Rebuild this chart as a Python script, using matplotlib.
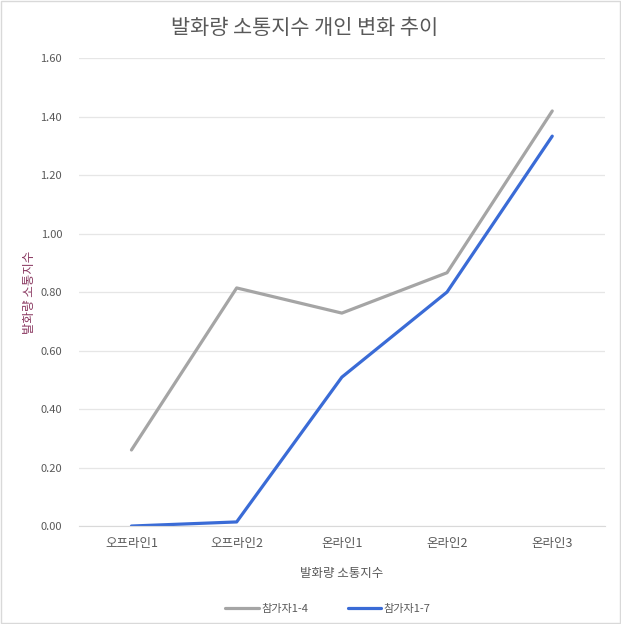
import matplotlib
matplotlib.use('Agg')
import matplotlib.pyplot as plt
from matplotlib.patches import Rectangle

plt.rcParams['font.family'] = ['Noto Sans CJK KR', 'DejaVu Sans']

categories = ['오프라인1', '오프라인2', '온라인1', '온라인2', '온라인3']
p14 = [0.26, 0.814, 0.728, 0.866, 1.419]
p17 = [0.0, 0.014, 0.509, 0.80, 1.333]
yticks = [0.0, 0.2, 0.4, 0.6, 0.8, 1.0, 1.2, 1.4, 1.6]

fig = plt.figure(figsize=(6.21, 6.24), dpi=100)
ax = fig.add_axes([0.127, 0.157, 0.847, 0.75])

x = range(len(categories))
ax.plot(x, p14, color='#A5A5A5', lw=2.3, label='참가자1-4', solid_capstyle='round')
ax.plot(x, p17, color='#3A6BD6', lw=2.3, label='참가자1-7', solid_capstyle='round')

ax.set_xlim(-0.5, 4.5)
ax.set_ylim(0, 1.6)
ax.set_yticks(yticks)
ax.set_yticklabels([f'{v:.2f}' for v in yticks], fontsize=8, color='#595959')
ax.set_xticks(list(x))
ax.set_xticklabels(categories, fontsize=9, color='#595959')
ax.tick_params(length=0, pad=8)
ax.tick_params(axis='y', pad=12)
ax.grid(axis='y', color='#E6E6E6', lw=0.9)
ax.set_axisbelow(True)
for s in ax.spines.values():
    s.set_visible(False)
ax.spines['bottom'].set_visible(True)
ax.spines['bottom'].set_color('#D9D9D9')

fig.text(0.49, 0.955, '발화량 소통지수 개인 변화 추이', fontsize=15, color='#595959',
         ha='center', va='center')
ax.set_xlabel('발화량 소통지수', fontsize=9, color='#595959', labelpad=12)
ax.set_ylabel('발화량 소통지수', fontsize=9, color='#8B3A62')
ax.yaxis.set_label_coords(-0.082, 0.5)

fig.legend(loc='lower center', bbox_to_anchor=(0.528, 0.0), ncol=2, frameon=False,
           fontsize=8, handlelength=3.0, columnspacing=3.6, handletextpad=0.2,
           labelcolor='#595959')

fig.patches.append(Rectangle((0.002, 0.002), 0.996, 0.996, transform=fig.transFigure,
                             fill=False, edgecolor='#D9D9D9', lw=1))

fig.savefig('out.png', dpi=100)
